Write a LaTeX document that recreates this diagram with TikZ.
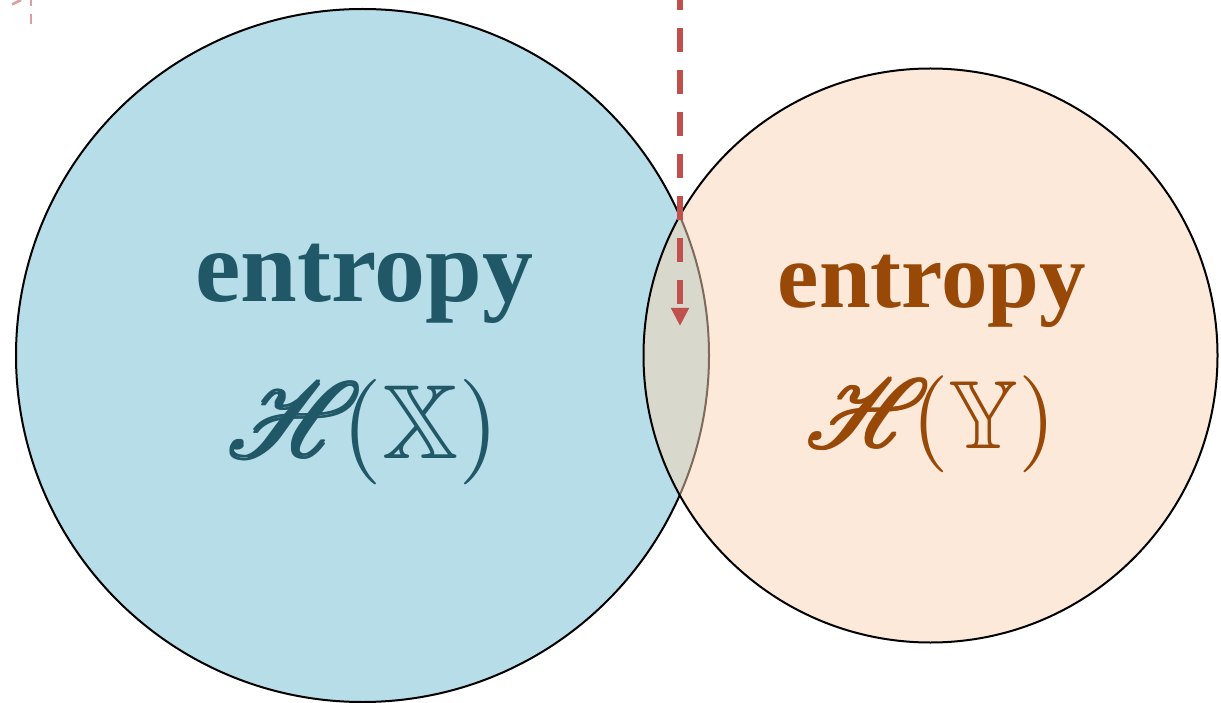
\documentclass[tikz,border=0pt]{standalone}
\usepackage{amssymb}
\usepackage{mathrsfs}
\usepackage{amsmath}
\usepackage{graphicx}
\usepackage[no-math]{fontspec}
\setmainfont{Liberation Serif}
\usetikzlibrary{arrows.meta}
\definecolor{tealtext}{HTML}{215868}
\definecolor{browntext}{HTML}{984807}
\definecolor{lblue}{HTML}{B7DEE8}
\definecolor{peach}{HTML}{FBD4B4}
\definecolor{accred}{HTML}{C0504D}
\newcommand{\heavyH}{\makebox[0pt][l]{$\mathscr{H}$}\makebox[0pt][l]{\hspace{0.25pt}$\mathscr{H}$}\makebox[0pt][l]{\raisebox{0.2pt}{$\mathscr{H}$}}\hspace{0.25pt}\raisebox{0.2pt}{$\mathscr{H}$}}
\tikzset{
  setcircle/.style={draw=black, line width=2pt},
  bigtext/.style={anchor=base, inner sep=0pt},
  redarrow/.style={draw=accred, line width=6pt, dash pattern=on 24pt off 18pt, dash phase=14pt,
    -{Triangle[width=17pt,length=18pt]}},
  faintred/.style={draw=accred, draw opacity=0.55, line width=2.5pt}
}
\begin{document}
\begin{tikzpicture}[x=1pt,y=-1pt]
\useasboundingbox (0,0) rectangle (1221,703);
% circles
\fill[lblue] (362.5,355.5) circle (346.5);
\draw[setcircle] (362.5,355.5) circle (346.5);
\fill[peach, fill opacity=0.5] (930.5,355.5) circle (287);
\draw[setcircle] (930.5,355.5) circle (287);
% texts
\node[bigtext, text=tealtext, font=\fontsize{102}{102}\selectfont\bfseries] (ex) at (364.5,302) {entropy};
\node[bigtext, text=tealtext] (hx) at (363,458) {\scalebox{10.55}{\heavyH\kern-2pt$(\mathbb{X})$}};
\node[bigtext, text=browntext, font=\fontsize{93}{93}\selectfont\bfseries] (ey) at (932,308) {entropy};
\node[bigtext, text=browntext] (hy) at (931,448) {\scalebox{9.7}{\heavyH\kern-2pt$(\mathbb{Y})$}};
% arrow
\coordinate (atop) at (680,0);
\coordinate (aend) at (680,326);
\draw[redarrow] (atop) -- (aend);
% faint element top-left
\coordinate (f1) at (31,0);
\coordinate (f2) at (31,24);
\coordinate (g1) at (12,4.5);
\coordinate (g2) at (21,0);
\draw[faintred, dash pattern=on 10pt off 8pt, dash phase=4pt] (f1) -- (f2);
\draw[faintred] (g1) -- (g2);
\end{tikzpicture}
\end{document}
